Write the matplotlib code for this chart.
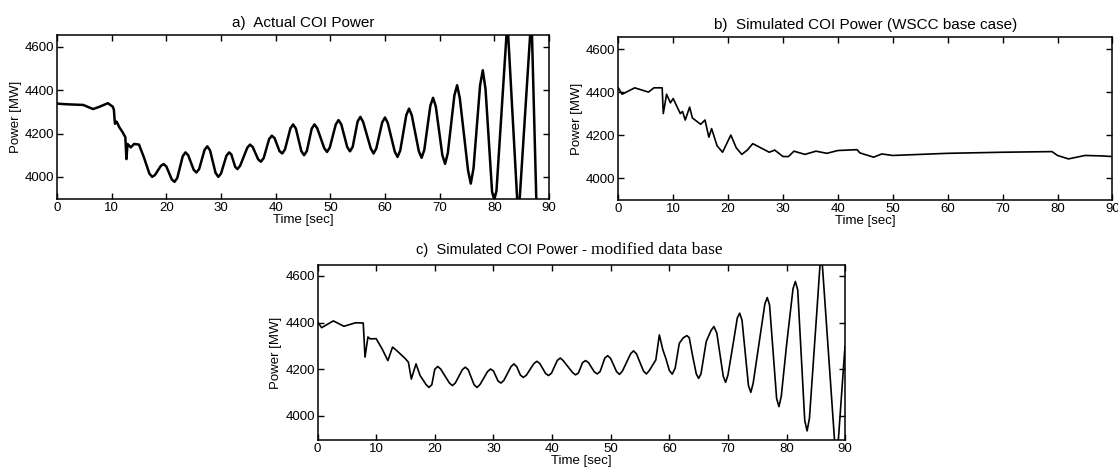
import matplotlib.pyplot as plt

plt.rcParams['font.family'] = ['Liberation Sans', 'DejaVu Sans']

# a) actual COI power (values read off the plot)
time_a = [0, 1.8, 4.8, 6.6, 7.8, 9.3, 10.2, 10.4, 10.6, 10.9, 11.4, 12.0, 12.5, 12.7, 12.9,
          13.5, 14.1, 15.0, 15.9, 16.9, 17.4, 17.9, 19.0, 19.5, 20.0, 21.0, 21.5, 22.0, 23.0,
          23.5, 24.0, 25.0, 25.5, 26.0, 27.0, 27.5, 28.0, 29.0, 29.5, 30.0, 31.0, 31.5, 31.9,
          32.6, 33.0, 33.5, 34.8, 35.3, 35.8, 36.8, 37.3, 37.8, 38.8, 39.3, 39.8, 40.7, 41.2,
          41.7, 42.7, 43.2, 43.7, 44.7, 45.2, 45.7, 46.6, 47.1, 47.6, 48.9, 49.4, 49.9, 51.0,
          51.5, 52.0, 53.1, 53.6, 54.1, 55.0, 55.5, 56.0, 57.4, 57.9, 58.4, 59.5, 60.0, 60.5,
          61.8, 62.3, 62.8, 63.9, 64.4, 64.9, 66.2, 66.7, 67.2, 68.3, 68.8, 69.3, 70.5, 71.0,
          71.5, 72.7, 73.2, 73.7, 75.2, 75.7, 76.2, 77.4, 77.9, 78.4, 79.6, 80.0, 80.4, 82.4,
          84.4, 86.8, 88.1]
power_a = [4338, 4335, 4332, 4313, 4324, 4340, 4324, 4310, 4245, 4255, 4229, 4206, 4183, 4082, 4152,
           4136, 4152, 4149, 4090, 4015, 4000, 4008, 4051, 4059, 4048, 3988, 3977, 3995, 4095,
           4113, 4100, 4033, 4020, 4036, 4125, 4141, 4122, 4019, 4000, 4015, 4098, 4113, 4103,
           4046, 4036, 4051, 4134, 4149, 4138, 4081, 4070, 4086, 4174, 4190, 4179, 4119, 4108,
           4126, 4224, 4242, 4223, 4119, 4100, 4119, 4223, 4242, 4225, 4132, 4115, 4135, 4242,
           4262, 4243, 4137, 4118, 4139, 4256, 4277, 4254, 4131, 4108, 4130, 4252, 4274, 4250,
           4116, 4092, 4122, 4285, 4315, 4285, 4118, 4088, 4125, 4328, 4365, 4325, 4100, 4060,
           4110, 4376, 4423, 4362, 4030, 3969, 4039, 4422, 4492, 4405, 3930, 3895, 3935, 4720,
           3800, 4750, 3500]

# b) simulated COI power, WSCC base case
time_b = [0, 0.7, 3.0, 5.5, 6.5, 8.0, 8.2, 8.8, 9.5, 10.0, 11.3, 11.7, 12.2, 13.0, 13.5, 15.0,
          15.8, 16.5, 17.0, 18.0, 19.0, 20.5, 21.5, 22.5, 23.5, 24.5, 26.0, 27.5, 28.5, 30.0,
          31.0, 32.0, 34.0, 36.0, 38.0, 40.0, 43.5, 44.0, 46.5, 48.0, 50.0, 55.0, 60.0, 70.0,
          79.0, 80.0, 82.0, 85.0, 88.0, 90.0]
power_b = [4420, 4390, 4420, 4400, 4420, 4420, 4300, 4390, 4350, 4370, 4300, 4310, 4270, 4330, 4280, 4250,
           4270, 4190, 4230, 4150, 4120, 4200, 4140, 4110, 4130, 4160, 4140, 4120, 4130, 4100,
           4100, 4125, 4110, 4125, 4115, 4128, 4132, 4117, 4097, 4112, 4105, 4110, 4115, 4120,
           4123, 4105, 4089, 4105, 4103, 4100]

# c) simulated COI power, modified data base
time_c = [0, 0.7, 2.7, 4.5, 6.5, 7.8, 8.1, 8.6, 9.0, 10.0, 11.0, 12.0, 12.8, 13.5, 15.0, 15.5,
          16.0, 16.8, 17.5, 18.5, 19.0, 19.5, 20.0, 20.5, 21.0, 22.5, 23.0, 23.5, 24.7, 25.2,
          25.7, 26.7, 27.2, 27.7, 29.0, 29.5, 30.0, 30.8, 31.3, 31.8, 33.0, 33.5, 34.0, 34.6,
          35.1, 35.6, 36.9, 37.4, 37.9, 38.9, 39.4, 39.9, 40.9, 41.4, 41.9, 43.5, 44.0, 44.5,
          45.2, 45.7, 46.2, 47.2, 47.7, 48.2, 49.0, 49.5, 50.0, 51.0, 51.5, 52.0, 53.4, 53.9,
          54.4, 55.6, 56.1, 56.6, 57.7, 58.3, 58.9, 59.4, 60.0, 60.5, 61.0, 61.7, 62.4, 63.0,
          63.4, 64.0, 64.6, 65.0, 65.4, 66.3, 67.1, 67.6, 68.1, 69.2, 69.6, 70.0, 70.9, 71.6,
          72.0, 72.4, 73.5, 73.9, 74.3, 75.2, 76.3, 76.7, 77.1, 78.3, 78.7, 79.1, 80.0, 81.1,
          81.5, 81.9, 83.1, 83.5, 83.9, 85.2, 85.9, 88.5, 89.9, 90.0]
power_c = [4403, 4378, 4407, 4384, 4399, 4398, 4252, 4338, 4330, 4331, 4288, 4237, 4295, 4280, 4245, 4230,
           4158, 4223, 4173, 4135, 4122, 4134, 4200, 4212, 4201, 4141, 4130, 4141, 4198, 4209,
           4198, 4134, 4122, 4134, 4190, 4201, 4193, 4149, 4141, 4153, 4211, 4223, 4210, 4175,
           4165, 4174, 4224, 4234, 4225, 4182, 4173, 4183, 4238, 4248, 4237, 4186, 4176, 4184,
           4228, 4237, 4229, 4189, 4180, 4190, 4248, 4258, 4246, 4190, 4178, 4192, 4266, 4279,
           4266, 4192, 4180, 4195, 4240, 4347, 4283, 4247, 4195, 4179, 4205, 4311, 4335, 4344,
           4335, 4254, 4180, 4161, 4180, 4319, 4365, 4383, 4355, 4170, 4144, 4175, 4311, 4420,
           4440, 4410, 4130, 4101, 4140, 4293, 4480, 4507, 4475, 4075, 4040, 4085, 4304, 4545,
           4576, 4540, 3980, 3936, 3990, 4461, 4720, 3780, 4276, 4300]

ticks_x = list(range(0, 91, 10))
ticks_y = [4000, 4200, 4400, 4600]

fig = plt.figure(figsize=(11.18, 4.76), dpi=100)
ax_a = fig.add_axes([0.051, 0.582, 0.440, 0.345])
ax_b = fig.add_axes([0.553, 0.580, 0.442, 0.342])
ax_c = fig.add_axes([0.284, 0.0756, 0.472, 0.368])


def style(ax, ylim):
    ax.set_xlim(0, 90)
    ax.set_ylim(*ylim)
    ax.set_xticks(ticks_x)
    ax.set_yticks(ticks_y)
    ax.tick_params(direction='in', top=True, right=True, length=4, width=1,
                   labelsize=9.5, pad=2)
    for s in ax.spines.values():
        s.set_linewidth(1.1)
    ax.set_xlabel('Time [sec]', fontsize=9.5, labelpad=0)
    ax.set_ylabel('Power [MW]', fontsize=9.5, labelpad=2)


ax_a.plot(time_a, power_a, color='black', linewidth=1.8, solid_joinstyle='round')
style(ax_a, (3898, 4656))
ax_a.set_title('a)  Actual COI Power', fontsize=11, pad=5.5)

ax_b.plot(time_b, power_b, color='black', linewidth=1.2, solid_joinstyle='round')
style(ax_b, (3898, 4656))
ax_b.set_title('b)  Simulated COI Power (WSCC base case)', fontsize=11, pad=6)

ax_c.plot(time_c, power_c, color='black', linewidth=1.2, solid_joinstyle='round')
style(ax_c, (3897, 4647))
ax_c.text(0.519, 1.086, 'c)  Simulated COI Power - ', transform=ax_c.transAxes,
          ha='right', va='center', fontsize=10.5)
ax_c.text(0.519, 1.086, 'modified data base', transform=ax_c.transAxes,
          ha='left', va='center', fontsize=12.5, family='Liberation Serif')

fig.savefig('out.png', dpi=100)
